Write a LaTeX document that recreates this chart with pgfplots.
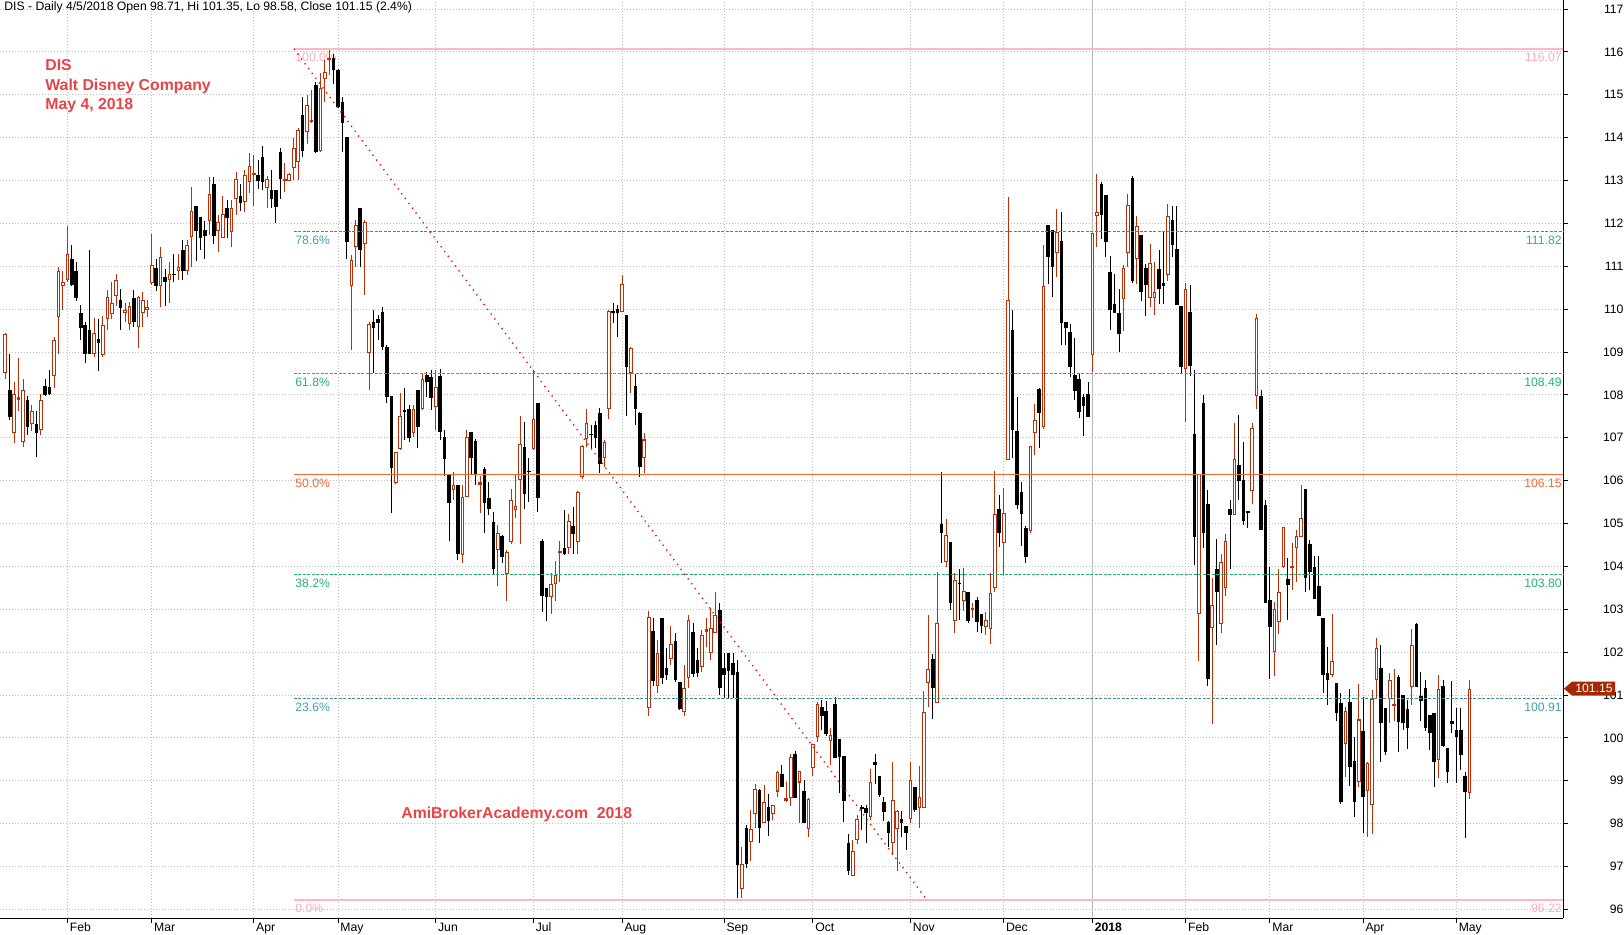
\documentclass[border=0pt]{standalone}
\usepackage{fontspec}
\setmainfont{Liberation Sans}
\usepackage{pgfplots}
\usepackage{pgfplotstable}
\pgfplotsset{compat=1.18}

\definecolor{upc}{RGB}{185,48,8}
\definecolor{boxc}{RGB}{165,40,5}
\definecolor{gridc}{RGB}{190,190,190}
\definecolor{fibpink}{RGB}{255,182,193}
\definecolor{fibpinktxt}{RGB}{255,170,185}
\definecolor{fibteal}{RGB}{60,140,150}
\definecolor{fibtealtxt}{RGB}{70,160,175}
\definecolor{fibgreen}{RGB}{40,180,110}
\definecolor{fiborange}{RGB}{240,105,50}
\definecolor{redtxt}{RGB}{232,68,70}

\pgfplotstableread{
i o h l c
0 108.51 109.45 108.38 109.41
1 108.11 108.95 107.41 107.49
2 107.12 108.29 106.88 108.03
3 107.89 108.87 107.63 107.94
4 106.91 108.36 106.79 108.12
5 107.89 107.97 107.06 107.25
6 107.33 107.77 107.16 107.63
7 107.31 107.63 106.55 107.10
8 107.18 108.01 107.07 107.88
9 108.20 108.36 107.97 107.99
10 108.19 108.58 107.99 108.01
11 108.44 109.35 108.15 109.27
12 109.82 110.99 108.95 110.89
13 110.55 110.89 109.97 110.63
14 110.67 111.93 110.64 111.28
15 111.18 111.49 110.53 110.56
16 110.88 111.09 110.19 110.26
17 109.90 110.09 109.29 109.55
18 109.63 109.70 108.75 108.96
19 109.52 111.37 108.96 108.96
20 108.96 109.80 108.89 109.45
21 109.31 109.76 108.56 109.21
22 108.92 109.85 108.89 109.62
23 109.78 110.44 109.51 110.29
24 109.88 110.64 109.78 110.15
25 110.31 110.81 110.07 110.69
26 110.21 110.46 109.51 110.03
27 109.92 110.15 109.70 109.99
28 109.66 110.17 109.51 110.08
29 110.27 110.44 109.59 109.70
30 109.59 110.30 109.10 110.29
31 109.90 110.41 109.59 110.21
32 109.97 110.21 109.82 110.05
33 110.60 111.75 110.56 111.02
34 110.97 111.16 110.43 110.55
35 110.55 111.44 110.04 111.21
36 110.75 110.93 110.08 110.64
37 110.67 111.11 110.15 110.83
38 110.83 111.28 110.64 110.80
39 110.88 111.28 110.69 110.99
40 111.38 111.61 110.69 110.90
41 110.90 111.61 110.79 111.49
42 111.69 112.84 110.99 112.28
43 112.40 112.40 111.13 111.83
44 112.14 112.14 111.38 111.67
45 111.84 112.06 111.17 111.71
46 112.05 113.09 111.73 112.68
47 112.93 113.09 111.53 111.71
48 111.82 112.19 111.34 112.04
49 111.67 112.64 111.65 112.21
50 112.37 112.54 111.67 112.12
51 111.79 112.54 111.44 112.35
52 112.56 113.20 112.19 113.03
53 112.64 112.93 112.30 112.48
54 112.49 113.24 112.27 113.14
55 112.97 113.65 112.70 113.35
56 113.14 113.59 112.40 113.17
57 113.13 113.49 112.81 112.99
58 113.54 113.80 112.79 112.97
59 112.82 113.10 112.37 113.03
60 112.79 113.24 112.37 112.56
61 112.78 112.78 112.01 112.39
62 113.66 113.75 112.58 113.03
63 113.00 113.40 112.74 113.02
64 112.99 113.18 112.98 113.16
65 113.30 113.98 113.01 113.75
66 113.44 114.22 113.01 114.18
67 114.53 114.95 113.54 113.69
68 114.14 114.99 113.86 114.76
69 114.36 115.11 114.33 114.41
70 115.23 115.30 113.65 113.67
71 113.69 115.50 113.67 115.15
72 115.36 115.81 114.84 115.54
73 115.81 116.07 115.46 115.85
74 115.85 115.95 115.26 115.58
75 115.58 115.61 114.68 114.72
76 114.84 114.95 113.67 114.33
77 114.02 114.02 111.18 111.57
78 110.55 111.26 109.04 111.14
79 111.46 112.08 110.99 111.96
80 112.35 112.35 110.99 111.38
81 111.52 112.09 110.33 112.04
82 108.97 109.70 108.11 109.65
83 109.71 109.98 108.50 109.55
84 109.78 109.86 109.28 109.67
85 109.94 110.05 109.05 109.12
86 109.12 109.16 107.80 107.96
87 107.97 107.97 105.24 106.29
88 105.95 106.66 105.93 106.66
89 106.73 108.04 106.71 107.51
90 107.63 108.15 106.95 107.61
91 107.66 107.76 106.91 106.99
92 107.12 107.76 107.02 107.68
93 108.11 108.11 106.77 107.26
94 107.68 108.50 107.65 108.38
95 108.46 108.54 107.96 108.31
96 108.42 108.59 107.65 107.92
97 107.71 108.58 107.18 108.18
98 108.44 108.60 106.95 107.14
99 107.01 107.18 106.11 106.50
100 106.15 106.15 104.60 105.47
101 105.78 106.20 105.55 105.90
102 105.90 105.90 104.15 104.30
103 104.27 105.90 104.09 105.63
104 105.61 107.17 105.61 107.01
105 107.13 107.13 106.13 106.54
106 106.92 106.97 105.90 106.13
107 105.91 106.12 105.24 105.96
108 106.27 106.33 104.77 105.49
109 105.59 105.96 105.20 105.35
110 105.04 105.26 103.81 103.93
111 104.38 104.96 103.54 104.77
112 104.71 104.73 104.07 104.21
113 103.82 104.38 103.20 104.34
114 104.58 105.80 104.52 105.55
115 105.31 106.13 105.14 105.41
116 106.02 107.51 104.52 106.85
117 106.79 107.37 105.35 105.68
118 106.22 106.52 105.51 106.20
119 106.73 108.58 106.71 107.43
120 107.80 107.80 105.28 105.60
121 104.59 104.65 102.94 103.32
122 103.49 103.49 102.73 103.29
123 103.29 103.85 102.90 103.58
124 103.58 104.13 103.20 103.81
125 104.32 104.60 103.64 104.36
126 104.42 105.31 104.26 104.29
127 104.42 105.22 104.30 105.07
128 104.94 105.39 104.30 104.76
129 104.58 105.77 104.30 105.74
130 106.09 106.83 106.05 106.81
131 106.96 107.67 106.79 107.34
132 107.09 107.30 106.75 107.06
133 107.30 107.39 106.75 106.99
134 107.57 107.69 106.19 106.40
135 106.52 106.95 106.33 106.91
136 107.66 109.98 107.43 109.96
137 109.96 110.15 109.67 109.92
138 110.00 110.10 109.34 109.90
139 109.94 110.80 109.94 110.58
140 109.86 109.86 107.51 108.64
141 108.50 109.12 108.05 109.09
142 108.21 108.48 107.30 107.66
143 107.58 107.61 106.09 106.33
144 106.52 107.12 106.17 106.96
145 100.69 102.97 100.50 102.81
146 102.49 102.79 101.21 101.33
147 101.22 102.28 101.04 101.97
148 102.79 102.79 101.26 101.39
149 101.62 102.09 101.35 101.47
150 101.83 102.61 101.70 102.18
151 102.25 102.45 101.31 101.35
152 101.31 101.31 100.65 100.67
153 100.61 101.70 100.51 101.16
154 101.39 102.87 101.17 102.75
155 102.46 102.67 101.43 101.48
156 101.82 102.09 101.43 101.51
157 101.66 102.52 101.54 102.40
158 102.47 102.79 102.13 102.54
159 101.97 103.02 101.82 102.56
160 102.45 103.41 102.44 102.86
161 102.98 103.15 101.00 101.17
162 101.62 101.97 100.92 101.47
163 101.99 101.99 100.92 101.57
164 101.74 101.97 100.92 101.47
165 101.54 101.82 96.26 97.03
166 96.47 97.46 96.26 97.06
167 97.89 97.97 96.96 97.06
168 97.58 98.33 97.14 97.87
169 98.22 98.92 97.89 98.80
170 98.78 98.82 97.54 97.89
171 98.02 98.90 98.01 98.50
172 98.38 98.69 97.71 98.07
173 98.22 98.43 98.09 98.43
174 98.75 99.23 98.63 99.20
175 99.17 99.37 98.85 98.86
176 98.54 98.98 98.51 98.59
177 98.59 99.62 98.41 99.55
178 99.62 99.70 98.61 98.61
179 98.96 99.23 98.02 99.22
180 98.76 99.02 98.01 98.02
181 97.87 98.59 97.68 98.57
182 99.29 99.86 99.11 99.86
183 100.03 100.83 99.91 100.79
184 100.73 100.88 100.18 100.51
185 100.63 100.85 100.04 100.09
186 99.93 100.22 99.37 100.07
187 100.79 100.95 99.54 99.54
188 99.97 99.97 98.71 99.56
189 99.58 99.58 98.05 98.54
190 97.54 97.77 96.80 96.90
191 96.79 97.63 96.78 97.37
192 97.63 98.20 97.53 98.12
193 98.40 98.44 97.85 98.35
194 98.36 98.44 97.56 98.24
195 98.16 99.27 98.08 98.98
196 99.43 99.62 98.92 99.38
197 99.11 99.11 98.63 98.67
198 98.51 98.63 98.07 98.28
199 98.05 98.07 97.46 97.79
200 97.56 99.45 97.27 98.55
201 97.88 98.32 96.90 98.30
202 98.11 98.30 97.70 98.02
203 97.94 97.94 97.39 97.79
204 98.12 99.45 98.01 99.02
205 98.86 98.86 98.28 98.33
206 98.36 99.34 97.91 98.63
207 98.36 101.10 98.36 100.61
208 101.27 102.87 100.73 101.60
209 101.85 101.96 100.43 101.16
210 100.81 103.88 100.81 102.67
211 104.99 106.21 104.09 104.77
212 104.11 105.10 103.98 104.73
213 104.58 104.58 102.98 103.15
214 102.73 103.84 102.45 103.68
215 103.61 103.94 102.75 103.58
216 103.20 103.96 102.97 103.42
217 103.40 103.40 102.69 102.73
218 102.98 103.14 102.79 103.02
219 103.21 103.28 102.48 102.71
220 102.89 102.89 102.45 102.62
221 102.59 102.94 102.40 102.76
222 102.53 103.84 102.19 103.39
223 103.50 106.23 103.41 105.22
224 105.33 105.66 104.46 104.79
225 104.55 105.82 103.80 105.24
226 106.48 112.62 106.48 110.21
227 109.51 109.99 106.52 107.18
228 107.16 107.96 105.33 105.43
229 105.74 105.97 104.48 105.22
230 104.89 104.94 104.09 104.21
231 104.83 106.81 104.77 106.81
232 107.12 107.79 106.60 107.41
233 108.14 108.15 106.75 107.58
234 107.26 111.49 107.20 110.55
235 111.96 111.96 110.58 111.22
236 111.84 111.84 110.29 110.99
237 111.30 112.33 110.76 111.81
238 111.59 112.27 109.16 109.67
239 109.69 109.69 109.16 109.55
240 109.46 109.65 108.42 108.64
241 108.46 109.32 107.87 108.10
242 108.38 108.50 107.45 107.61
243 107.96 108.03 107.04 107.74
244 108.03 108.29 107.48 107.48
245 108.93 111.77 108.54 111.77
246 112.17 113.15 111.44 112.26
247 112.92 112.97 111.63 112.19
248 112.66 112.66 111.22 111.57
249 110.87 111.24 109.51 109.98
250 110.12 110.82 109.92 109.92
251 109.92 110.46 109.01 109.43
252 110.23 111.03 109.50 110.97
253 111.30 112.68 110.99 112.44
254 113.05 113.10 110.62 110.66
255 111.16 112.17 110.58 111.94
256 111.72 111.72 110.20 110.40
257 110.97 111.05 109.83 110.56
258 110.26 111.53 110.06 111.07
259 110.26 111.09 109.87 110.40
260 110.93 111.38 110.11 110.48
261 110.60 111.79 110.11 110.54
262 110.79 112.46 110.66 112.17
263 112.09 112.40 111.22 111.50
264 111.40 112.40 110.09 110.09
265 110.07 110.07 108.50 108.64
266 108.60 110.60 107.36 110.46
267 109.94 110.56 108.44 108.67
268 107.09 108.58 104.03 104.69
269 102.89 106.15 101.79 106.15
270 107.81 107.99 104.44 104.77
271 105.46 105.79 101.22 101.38
272 102.56 103.72 100.32 103.09
273 103.93 104.64 102.16 103.40
274 102.66 104.28 102.44 104.11
275 103.50 104.75 103.30 104.60
276 105.34 105.54 103.95 105.19
277 105.19 107.34 105.19 106.51
278 106.36 107.54 105.54 105.99
279 106.01 106.89 104.97 105.05
280 105.30 105.30 104.90 105.24
281 105.75 107.34 105.46 107.23
282 107.98 109.89 107.67 109.79
283 107.98 108.12 104.85 104.85
284 105.44 105.54 103.15 103.15
285 103.22 103.99 101.38 102.58
286 102.00 103.17 101.45 103.00
287 102.71 103.95 102.42 103.40
288 103.98 104.91 103.96 104.91
289 103.70 104.19 102.75 103.57
290 103.97 104.54 103.45 104.01
291 104.42 104.85 103.64 104.71
292 104.69 105.90 104.68 105.14
293 105.80 105.80 103.41 103.72
294 104.52 104.62 103.46 103.88
295 103.98 104.24 103.23 103.23
296 103.54 104.24 102.84 102.84
297 102.79 102.79 101.04 101.47
298 101.52 102.12 100.77 101.35
299 101.47 102.90 101.43 101.80
300 101.27 101.27 100.40 100.57
301 100.82 101.05 98.45 98.51
302 99.86 100.73 99.08 100.63
303 100.84 101.13 98.88 99.33
304 99.47 100.03 98.16 98.51
305 98.98 101.25 98.86 100.43
306 100.17 100.96 97.79 98.63
307 98.77 99.45 97.70 99.41
308 98.43 101.12 97.77 100.92
309 101.35 102.34 100.92 102.09
310 101.62 102.17 99.45 100.34
311 100.69 100.69 99.60 99.68
312 100.90 101.51 100.34 101.35
313 100.75 101.60 100.40 100.78
314 101.41 101.47 99.68 100.38
315 101.00 101.00 100.18 100.34
316 100.67 100.88 99.73 100.22
317 101.18 102.55 100.77 102.17
318 102.66 102.69 101.19 101.19
319 100.98 101.54 100.40 100.87
320 101.16 101.35 100.15 100.22
321 100.53 100.53 99.72 100.12
322 100.59 100.59 98.86 99.45
323 99.48 101.47 99.06 101.13
324 101.21 101.35 99.79 99.81
325 99.77 99.77 98.94 99.21
326 100.39 101.33 100.12 100.32
327 100.18 100.69 98.94 100.03
328 100.18 100.69 99.25 99.60
329 99.11 99.21 97.66 98.75
330 98.71 101.35 98.58 101.15
}\candles

\pgfplotsset{
  candle/.style n args={2}{draw=none, mark=none, forget plot,
    error bars/y dir=plus, error bars/y explicit, error bars/error mark=none,
    error bars/error bar style={draw=#1, line width=#2, line cap=butt, solid}},
}

\begin{document}
\begin{tikzpicture}
\begin{axis}[
  scale only axis, width=781.65pt, height=459pt,
  at={(0pt,0pt)}, anchor=south west,
  xmin=-1.19, xmax=351.1, ymin=95.80, ymax=117.21,
  axis x line*=bottom, axis y line*=right,
  axis line style={black, line width=0.5pt},
  ytick={96,...,117},
  xtick={14,33,56,75,97,119,139,162,182,204,225,245,266,285,306,327},
  xticklabels={Feb,Mar,Apr,May,Jun,Jul,Aug,Sep,Oct,Nov,Dec,\textbf{2018},Feb,Mar,Apr,May},
  tick align=outside, major tick length=2.3pt,
  tick style={black, line width=0.5pt},
  /pgf/number format/assume math mode=true,
  yticklabel style={font=\fontsize{6.1}{7}\selectfont, anchor=east, inner sep=0pt, xshift=28pt},
  xticklabel style={font=\fontsize{6.1}{7}\selectfont, anchor=north west, inner sep=0pt, xshift=1pt},
  grid=major,
  major grid style={gridc, line width=0.5pt, dash pattern=on 0.5pt off 1pt},
  clip=false,
]
% year line
\addplot[gray!55, line width=0.7pt, forget plot] coordinates {(245,95.80) (245,117.21)};

% fib labels (behind candles)
\begin{scope}[every node/.style={font=\fontsize{6.1}{7}\selectfont, inner sep=0pt}]
\node[fibpinktxt, anchor=north west] at (axis cs:65.3,116.07) [yshift=-2pt] {100.0\%};
\node[fibtealtxt, anchor=north west] at (axis cs:65.3,111.82) [yshift=-2pt] {78.6\%};
\node[fibgreen, anchor=north west] at (axis cs:65.3,108.49) [yshift=-2pt] {61.8\%};
\node[fiborange, anchor=north west] at (axis cs:65.3,106.15) [yshift=-2pt] {50.0\%};
\node[fibgreen, anchor=north west] at (axis cs:65.3,103.80) [yshift=-2pt] {38.2\%};
\node[fibtealtxt, anchor=north west] at (axis cs:65.3,100.91) [yshift=-2pt] {23.6\%};
\node[fibpinktxt, anchor=north west] at (axis cs:65.3,96.22) [yshift=-2pt] {0.0\%};
\node[fibpinktxt, anchor=north east] at (axis cs:350.8,116.07) [yshift=-2pt] {116.07};
\node[fibtealtxt, anchor=north east] at (axis cs:350.8,111.82) [yshift=-2pt] {111.82};
\node[fibgreen, anchor=north east] at (axis cs:350.8,108.49) [yshift=-2pt] {108.49};
\node[fiborange, anchor=north east] at (axis cs:350.8,106.15) [yshift=-2pt] {106.15};
\node[fibgreen, anchor=north east] at (axis cs:350.8,103.80) [yshift=-2pt] {103.80};
\node[fibtealtxt, anchor=north east] at (axis cs:350.8,100.91) [yshift=-2pt] {100.91};
\node[fibpinktxt, anchor=north east] at (axis cs:350.8,96.22) [yshift=-2pt] {96.22};
\end{scope}

% wicks
\addplot[restrict expr to domain={\thisrow{c}-\thisrow{o}}{-1000:-0.00001},
  candle={black}{0.5pt}]
  table[x=i, y=l, y error plus expr={\thisrow{h}-\thisrow{l}}] {\candles};
\addplot[restrict expr to domain={\thisrow{c}-\thisrow{o}}{0:1000},
  candle={upc}{0.5pt}]
  table[x=i, y=l, y error plus expr={\thisrow{h}-\thisrow{l}}] {\candles};
% bodies
\addplot[restrict expr to domain={\thisrow{c}-\thisrow{o}}{-1000:-0.00001},
  candle={black}{1.8pt}]
  table[x=i, y=c, y error plus expr={max(\thisrow{o}-\thisrow{c},0.03)}] {\candles};
\addplot[restrict expr to domain={\thisrow{c}-\thisrow{o}}{0:1000},
  candle={upc}{1.8pt}]
  table[x=i, y=o, y error plus expr={max(\thisrow{c}-\thisrow{o},0.03)}] {\candles};
\addplot[restrict expr to domain={\thisrow{c}-\thisrow{o}}{0.07:1000},
  candle={white}{0.8pt}]
  table[x=i, y expr={\thisrow{o}+0.024}, y error plus expr={\thisrow{c}-\thisrow{o}-0.048}] {\candles};

% fib lines
\addplot[fibpink, line width=1pt, forget plot] coordinates {(65.06,116.07) (351.1,116.07)};
\addplot[fibteal, line width=0.5pt, dash pattern=on 1.5pt off 0.75pt, forget plot] coordinates {(65.06,111.82) (351.1,111.82)};
\addplot[fibgreen, line width=0.5pt, dash pattern=on 1.5pt off 0.75pt, forget plot] coordinates {(65.06,108.49) (351.1,108.49)};
\addplot[fiborange, line width=0.6pt, forget plot] coordinates {(65.06,106.15) (351.1,106.15)};
\addplot[fibgreen, line width=0.5pt, dash pattern=on 1.5pt off 0.75pt, forget plot] coordinates {(65.06,103.80) (351.1,103.80)};
\addplot[fibteal, line width=0.5pt, dash pattern=on 1.5pt off 0.75pt, forget plot] coordinates {(65.06,100.91) (351.1,100.91)};
\addplot[fibpink, line width=1pt, forget plot] coordinates {(65.06,96.22) (351.1,96.22)};
% trend line
\addplot[red, line width=0.7pt, dash pattern=on 0.6pt off 2.4pt, forget plot] coordinates {(65.06,116.07) (207.7,96.22)};
\end{axis}

% price box
\fill[boxc] (782pt,114.7pt) -- (786pt,118.2pt) -- (807.5pt,118.2pt) -- (807.5pt,111.2pt) -- (786pt,111.2pt) -- cycle;
\node[white, font=\fontsize{6.1}{7}\selectfont, inner sep=0pt] at (797pt,114.7pt) {101.15};

% texts
\node[anchor=base west, inner sep=0pt, font=\fontsize{6.1}{7}\selectfont] at (2pt,453.5pt) {DIS - Daily 4/5/2018 Open 98.71, Hi 101.35, Lo 98.58, Close 101.15 (2.4\%)};
\begin{scope}[every node/.style={anchor=base west, inner sep=0pt, text=redtxt, font=\bfseries\fontsize{7.9}{9}\selectfont}]
\node at (22.5pt,423.55pt) {DIS};
\node at (22.5pt,413.7pt) {Walt Disney Company};
\node at (22.5pt,404.35pt) {May 4, 2018};
\node at (200.5pt,49.65pt) {AmiBrokerAcademy.com\ \ 2018};
\end{scope}

\pgfresetboundingbox
\path[use as bounding box] (0pt,-8pt) rectangle (812pt,459pt);
\end{tikzpicture}
\end{document}
